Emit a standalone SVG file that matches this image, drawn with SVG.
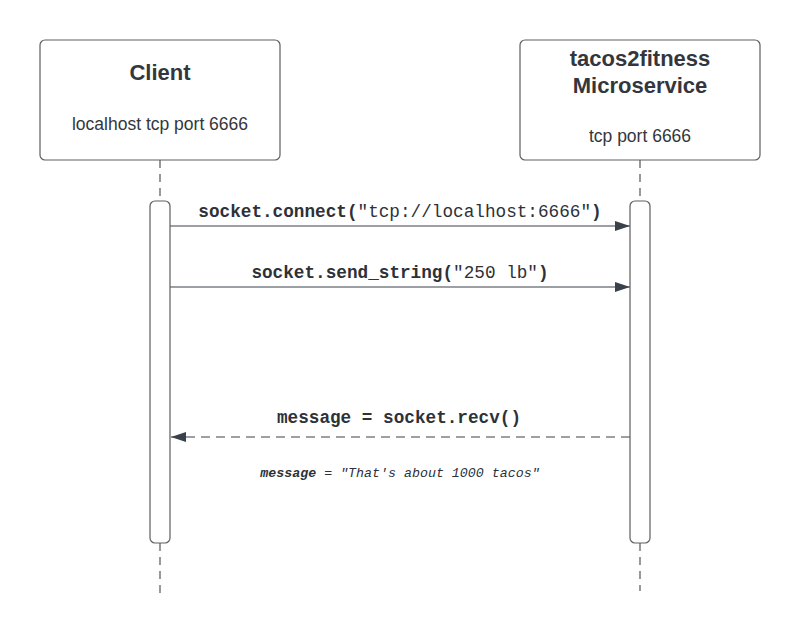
<svg xmlns="http://www.w3.org/2000/svg" width="800" height="639" viewBox="0 0 800 639">
<defs>
<style>
.box{fill:#fff;stroke:#5e5e5e;stroke-width:1.2}
.life{stroke:#555;stroke-width:1.2;stroke-dasharray:8 6;fill:none}
.msg{stroke:#3a414a;stroke-width:1.2;fill:none}
.title{font-family:"Liberation Sans",Arial,sans-serif;font-weight:bold;font-size:22px;fill:#33373d;text-anchor:middle}
.sub{font-family:"Liberation Sans",Arial,sans-serif;font-size:17.5px;fill:#33373d;text-anchor:middle}
.code{font-family:"Liberation Mono","DejaVu Sans Mono",monospace;font-size:17.7px;fill:#2d3138;text-anchor:middle}
.note{font-family:"Liberation Mono","DejaVu Sans Mono",monospace;font-size:13.3px;font-style:italic;fill:#2d3138;text-anchor:middle}
</style>
<marker id="ah" viewBox="0 0 15 10" refX="15" refY="5" markerWidth="15" markerHeight="10" markerUnits="userSpaceOnUse" orient="auto">
<path d="M0,0 L15,5 L0,10 Z" fill="#3a414a"/>
</marker>
</defs>
<rect width="800" height="639" fill="#fff"/>
<g id="connectors">
<line class="life" x1="160" y1="160" x2="160" y2="200"/>
<line class="life" x1="160" y1="543" x2="160" y2="599"/>
<line class="life" x1="640" y1="160" x2="640" y2="200"/>
<line class="life" x1="640" y1="543" x2="640" y2="591"/>
<line class="msg" x1="170" y1="226" x2="630" y2="226" marker-end="url(#ah)"/>
<line class="msg" x1="170" y1="287" x2="630" y2="287" marker-end="url(#ah)"/>
<line class="msg" x1="630" y1="437" x2="171" y2="437" stroke-dasharray="9 6" marker-end="url(#ah)"/>
</g>
<g id="client">
<rect class="box" x="40" y="40" width="240" height="120" rx="5"/>
<text class="title" x="160" y="80">Client</text>
<text class="sub" x="160" y="130">localhost tcp port 6666</text>
</g>
<g id="service">
<rect class="box" x="520" y="40" width="240" height="120" rx="5"/>
<text class="title" x="640" y="66">tacos2fitness</text>
<text class="title" x="640" y="93">Microservice</text>
<text class="sub" x="640" y="142">tcp port 6666</text>
</g>
<g id="client-activation">
<rect class="box" x="150" y="201" width="20" height="342" rx="5"/>
</g>
<g id="service-activation">
<rect class="box" x="630" y="201" width="20" height="342" rx="5"/>
</g>
<g id="labels">
<text class="code" x="400" y="217"><tspan font-weight="bold">socket.connect(</tspan>"tcp://localhost:6666"<tspan font-weight="bold">)</tspan></text>
<text class="code" x="400" y="278"><tspan font-weight="bold">socket.send_string(</tspan>"250 lb"<tspan font-weight="bold">)</tspan></text>
<text class="code" x="399" y="423" font-weight="bold">message = socket.recv()</text>
<text class="note" x="400" y="477"><tspan font-weight="bold">message</tspan> = "That's about 1000 tacos"</text>
</g>
</svg>
